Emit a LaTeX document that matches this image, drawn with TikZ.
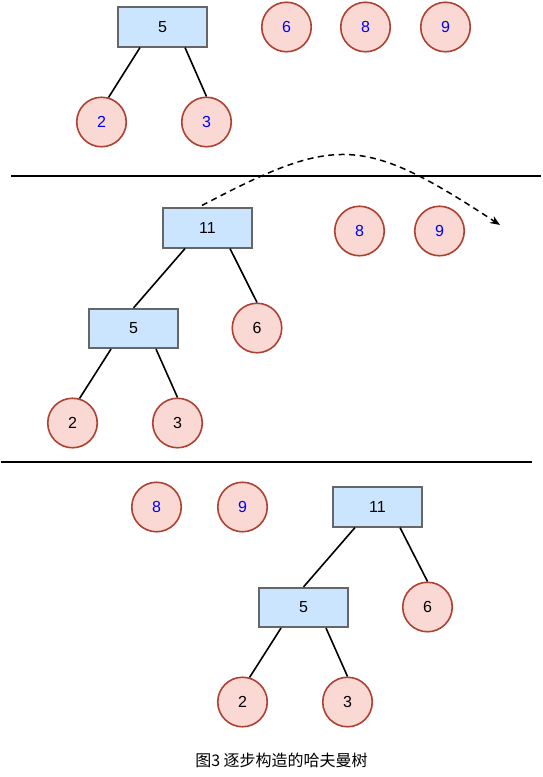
\documentclass[tikz,border=0pt]{standalone}
\usepackage{fontspec}
\setmainfont{Liberation Sans}
\newfontfamily\cjk{Noto Sans CJK SC}
\usetikzlibrary{arrows.meta}
\definecolor{rectfill}{HTML}{CCE5FF}
\definecolor{rectdraw}{HTML}{666666}
\definecolor{circfill}{HTML}{FAD9D5}
\definecolor{circdraw}{HTML}{AE4132}
\definecolor{numblue}{HTML}{0000FF}
\tikzset{
  box/.style={draw=rectdraw, fill=rectfill, line width=1.6pt, minimum width=89.5pt, minimum height=39.5pt, inner sep=0pt, font=\fontsize{16}{19}\selectfont},
  leaf/.style={circle, draw=circdraw, fill=circfill, line width=1.6pt, minimum size=49.5pt, inner sep=0pt, font=\fontsize{16}{19}\selectfont},
  bluenum/.style={text=numblue},
  edge/.style={line width=1.6pt},
  sepline/.style={line width=1.6pt},
  movearrow/.style={line width=1.5pt, dash pattern=on 6pt off 4.5pt, -{Stealth[length=10pt,width=8pt]}},
}
\begin{document}
\begin{tikzpicture}[x=1pt,y=-1pt]
\useasboundingbox (0,0) rectangle (543,777);
% section 1
\node[box] (a5) at (162.5,27) {5};
\node[leaf,bluenum] (a6) at (286.5,27) {6};
\node[leaf,bluenum] (a8) at (365.5,27) {8};
\node[leaf,bluenum] (a9) at (445.5,27) {9};
\node[leaf,bluenum] (a2) at (101.5,122) {2};
\node[leaf,bluenum] (a3) at (206.5,122) {3};
\draw[edge] ([xshift=-22.5pt]a5.south) -- (a2.74);
\draw[edge] ([xshift=22.5pt]a5.south) -- (a3.north);
\draw[sepline] (11,176) -- (541,176);
% section 2
\node[box] (b11) at (207.5,228) {11};
\node[leaf,bluenum] (b8) at (359.5,231) {8};
\node[leaf,bluenum] (b9) at (439.5,231) {9};
\node[box] (b5) at (133.5,328.5) {5};
\node[leaf] (b6) at (257,328) {6};
\node[leaf] (b2) at (72.5,423) {2};
\node[leaf] (b3) at (177.5,423) {3};
\draw[edge] ([xshift=-22.5pt]b11.south) -- (b5.north);
\draw[edge] ([xshift=22.5pt]b11.south) -- (b6.north);
\draw[edge] ([xshift=-22.5pt]b5.south) -- (b2.74);
\draw[edge] ([xshift=22.5pt]b5.south) -- (b3.north);
\coordinate (arrowend) at (500,225);
\draw[movearrow] ([shift={(-5.5pt,2pt)}]b11.north) .. controls (336,135) and (363,135) .. (arrowend);
\draw[sepline] (1,462) -- (532,462);
% section 3
\node[leaf,bluenum] (c8) at (156.5,507) {8};
\node[leaf,bluenum] (c9) at (242.5,507) {9};
\node[box] (c11) at (377.5,507) {11};
\node[box] (c5) at (303.5,607.5) {5};
\node[leaf] (c6) at (427.5,607) {6};
\node[leaf] (c2) at (242.5,702) {2};
\node[leaf] (c3) at (347.5,702) {3};
\draw[edge] ([xshift=-22.5pt]c11.south) -- (c5.north);
\draw[edge] ([xshift=22.5pt]c11.south) -- (c6.north);
\draw[edge] ([xshift=-22.5pt]c5.south) -- (c2.74);
\draw[edge] ([xshift=22.5pt]c5.south) -- (c3.north);
% caption
\node[font=\cjk\fontsize{16}{19}\selectfont] (cap) at (281.5,760) {图3\ 逐步构造的哈夫曼树};
\end{tikzpicture}
\end{document}
